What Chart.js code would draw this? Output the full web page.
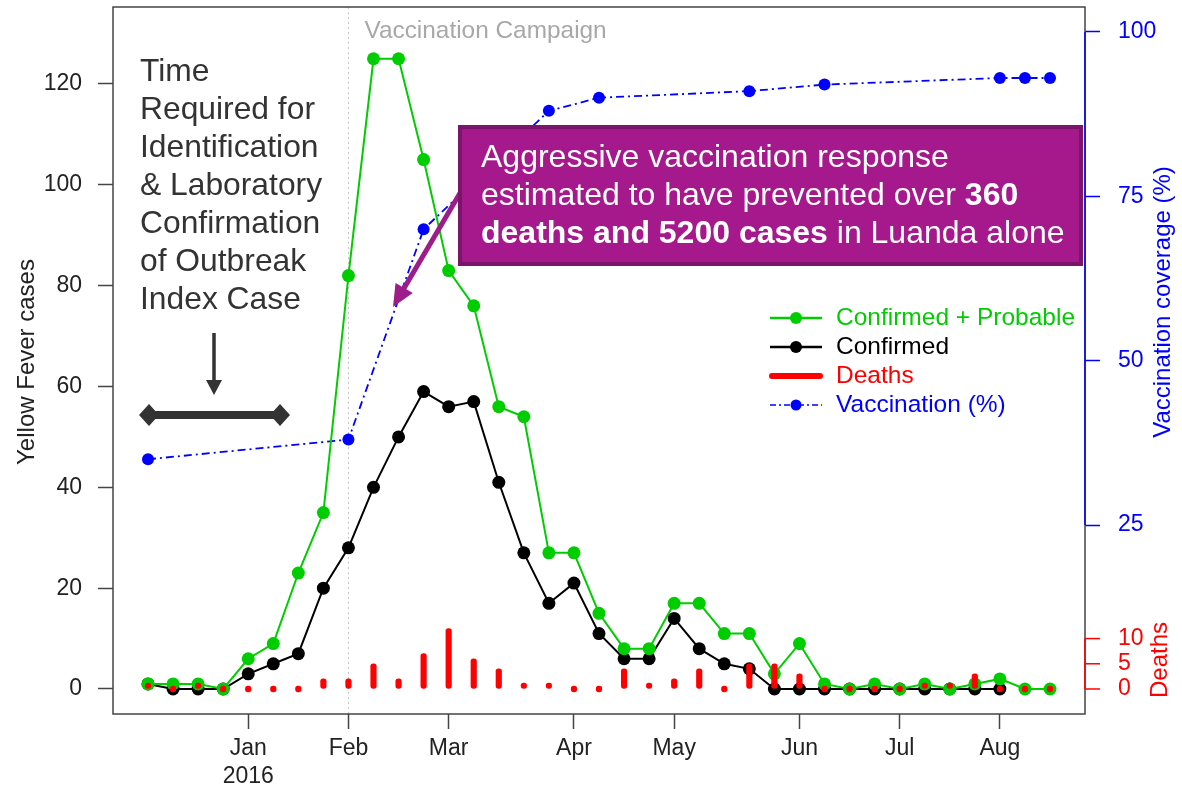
<!DOCTYPE html>
<html><head><meta charset="utf-8">
<script src="https://cdn.jsdelivr.net/npm/chart.js@4.4.1/dist/chart.umd.min.js"></script>
<style>html,body{margin:0;padding:0;background:#fff;}canvas{display:block;}</style>
</head><body>
<canvas id="c" width="1182" height="787"></canvas>
<script>
// ---- data ----
const weeks = [0,1,2,3,4,5,6,7,8,9,10,11,12,13,14,15,16,17,18,19,20,21,22,23,24,25,26,27,28,29,30,31,32,33,34,35,36];
const monthTickWeeks = [4,8,12,17,21,26,30,34];
const monthTickLabels = [['Jan','2016'],'Feb','Mar','Apr','May','Jun','Jul','Aug'];
const confirmedProbable = [1,1,1,0,6,9,23,35,82,125,125,105,83,76,56,54,27,27,15,8,8,17,17,11,11,3,9,1,0,1,0,1,0,1,2,0,0];
const confirmed = [1,0,0,0,3,5,7,20,28,40,50,59,56,57,41,27,17,21,11,6,6,14,8,5,4,0,0,0,0,0,0,0,0,0,0,null,null];
const deaths = [1,0,1,0,0,0,0,2,2,5,2,7,12,6,4,1,1,0,0,4,1,2,4,0,5,5,3,0,0,0,0,1,1,3,0,0,0];
const vaccinationPct = [35,null,null,null,null,null,null,null,38,null,null,70,null,null,null,null,88,null,90,null,null,null,null,null,91,null,null,92,null,null,null,null,null,null,93,93,93];
const caseTicks = [0,20,40,60,80,100,120];
const vaccTicks = [25,50,75,100];
const deathTicks = [0,5,10];
const campaignStartWeek = 8;
const seriesNames = ['Confirmed + Probable','Confirmed','Deaths','Vaccination (%)'];
const leftNote = ['Time','Required for','Identification','& Laboratory','Confirmation','of Outbreak','Index Case'];

// ---- style ----
const FONT = '"Liberation Sans", Arial, Helvetica, sans-serif';
const GREEN = '#00CD00', BLACK = '#000000', RED = '#FF0000', BLUE = '#0000FF';
const AXIS = '#444444', TXT = '#222222';
Chart.defaults.font.family = FONT;

const pts = (arr) => weeks.map((w, i) => ({x: w, y: arr[i]}));
function fixTicks(list) { return (s) => { s.ticks = list.map(v => ({value: v})); }; }
function fitSize(prop, val) {
  return (s) => { s[prop] = val; s.paddingTop = 0; s.paddingBottom = 0; s.paddingLeft = 0; s.paddingRight = 0; };
}

const overlay = {
  id: 'overlay',
  beforeDatasetsDraw(chart) {
    const {ctx, chartArea: a, scales: {x}} = chart;
    const px = x.getPixelForValue(campaignStartWeek);
    ctx.save();
    ctx.strokeStyle = '#c4c4c4'; ctx.lineWidth = 1; ctx.setLineDash([2, 3]);
    ctx.beginPath(); ctx.moveTo(px, a.top); ctx.lineTo(px, a.bottom); ctx.stroke();
    ctx.setLineDash([]);
    ctx.fillStyle = '#a8a8a8'; ctx.font = '24.4px ' + FONT; ctx.textBaseline = 'middle'; ctx.textAlign = 'left';
    ctx.fillText('Vaccination Campaign', px + 16, 31);
    ctx.restore();
  },
  afterDraw(chart) {
    const {ctx, chartArea: a, scales: {y, vacc}} = chart;
    ctx.save();
    // plot box
    ctx.strokeStyle = AXIS; ctx.lineWidth = 1.5;
    ctx.strokeRect(a.left, a.top, a.right - a.left, a.bottom - a.top);
    // vaccination axis line
    ctx.strokeStyle = BLUE;
    ctx.beginPath(); ctx.moveTo(a.right, vacc.getPixelForValue(vaccTicks[0])); ctx.lineTo(a.right, vacc.getPixelForValue(vaccTicks[vaccTicks.length-1])); ctx.stroke();
    // deaths axis
    ctx.strokeStyle = RED;
    ctx.beginPath(); ctx.moveTo(a.right, y.getPixelForValue(deathTicks[0])); ctx.lineTo(a.right, y.getPixelForValue(deathTicks[deathTicks.length-1])); ctx.stroke();
    ctx.fillStyle = RED; ctx.font = '23px ' + FONT; ctx.textBaseline = 'middle'; ctx.textAlign = 'left';
    deathTicks.forEach(v => {
      const py = y.getPixelForValue(v);
      ctx.beginPath(); ctx.moveTo(a.right, py); ctx.lineTo(a.right + 15, py); ctx.stroke();
      ctx.fillText(String(v), a.right + 33, py);
    });
    // axis titles
    ctx.font = '24px ' + FONT; ctx.textAlign = 'center';
    const vtext = (t, cx, cy, col) => { ctx.save(); ctx.translate(cx, cy); ctx.rotate(-Math.PI/2); ctx.fillStyle = col; ctx.fillText(t, 0, 0); ctx.restore(); };
    vtext('Yellow Fever cases', 27, 362, TXT);
    vtext('Vaccination coverage (%)', 1163, 302, BLUE);
    vtext('Deaths', 1160, 660, RED);

    // legend
    const lx0 = 770, lx1 = 822, tx = 836, rows = [318, 347, 376, 405];
    ctx.font = '24.5px ' + FONT; ctx.textAlign = 'left'; ctx.textBaseline = 'middle';
    ctx.strokeStyle = GREEN; ctx.fillStyle = GREEN; ctx.lineWidth = 2.5;
    ctx.beginPath(); ctx.moveTo(lx0, rows[0]); ctx.lineTo(lx1, rows[0]); ctx.stroke();
    ctx.beginPath(); ctx.arc((lx0+lx1)/2, rows[0], 6, 0, Math.PI*2); ctx.fill();
    ctx.fillText(seriesNames[0], tx, rows[0]);
    ctx.strokeStyle = BLACK; ctx.fillStyle = BLACK;
    ctx.beginPath(); ctx.moveTo(lx0, rows[1]); ctx.lineTo(lx1, rows[1]); ctx.stroke();
    ctx.beginPath(); ctx.arc((lx0+lx1)/2, rows[1], 6, 0, Math.PI*2); ctx.fill();
    ctx.fillText(seriesNames[1], tx, rows[1]);
    ctx.strokeStyle = RED; ctx.fillStyle = RED; ctx.lineWidth = 6; ctx.lineCap = 'round';
    ctx.beginPath(); ctx.moveTo(lx0 + 2, rows[2]); ctx.lineTo(lx1 - 2, rows[2]); ctx.stroke();
    ctx.lineCap = 'butt';
    ctx.fillText(seriesNames[2], tx, rows[2]);
    ctx.strokeStyle = BLUE; ctx.fillStyle = BLUE; ctx.lineWidth = 1.5; ctx.setLineDash([6, 3, 2, 3]);
    ctx.beginPath(); ctx.moveTo(lx0, rows[3]); ctx.lineTo(lx1, rows[3]); ctx.stroke();
    ctx.setLineDash([]);
    ctx.beginPath(); ctx.arc((lx0+lx1)/2, rows[3], 5.5, 0, Math.PI*2); ctx.fill();
    ctx.fillText(seriesNames[3], tx, rows[3]);

    // left annotation text
    ctx.fillStyle = '#333333'; ctx.font = '31.8px ' + FONT; ctx.textBaseline = 'middle'; ctx.textAlign = 'left';
    leftNote.forEach((t, i) => ctx.fillText(t, 140, 72 + 38 * i));
    // down arrow
    ctx.strokeStyle = '#333333'; ctx.lineWidth = 3.5;
    ctx.beginPath(); ctx.moveTo(214, 333); ctx.lineTo(214, 384); ctx.stroke();
    ctx.beginPath(); ctx.moveTo(206, 380); ctx.lineTo(222, 380); ctx.lineTo(214, 395); ctx.closePath(); ctx.fill();
    // horizontal bar with diamonds
    ctx.lineWidth = 8;
    ctx.beginPath(); ctx.moveTo(149, 415); ctx.lineTo(280, 415); ctx.stroke();
    [149, 280].forEach(cx => {
      ctx.beginPath(); ctx.moveTo(cx - 10, 415); ctx.lineTo(cx, 404); ctx.lineTo(cx + 10, 415); ctx.lineTo(cx, 426); ctx.closePath(); ctx.fill();
    });

    // purple callout arrow
    const ax0 = 463, ay0 = 188, ax1 = 393, ay1 = 307;
    const ang = Math.atan2(ay1 - ay0, ax1 - ax0);
    ctx.strokeStyle = '#9E1C8A'; ctx.fillStyle = '#9E1C8A'; ctx.lineWidth = 5;
    const hl = 22, hw = 10;
    const bx = ax1 - hl * Math.cos(ang), by = ay1 - hl * Math.sin(ang);
    ctx.beginPath(); ctx.moveTo(ax0, ay0); ctx.lineTo(bx + 4*Math.cos(ang), by + 4*Math.sin(ang)); ctx.stroke();
    ctx.beginPath(); ctx.moveTo(ax1, ay1);
    ctx.lineTo(bx + hw * Math.sin(ang), by - hw * Math.cos(ang));
    ctx.lineTo(bx - hw * Math.sin(ang), by + hw * Math.cos(ang));
    ctx.closePath(); ctx.fill();
    // purple box
    ctx.fillStyle = '#A5198C'; ctx.fillRect(458, 125, 625, 141);
    ctx.strokeStyle = '#7B1569'; ctx.lineWidth = 4; ctx.strokeRect(460, 127, 621, 137);
    ctx.fillStyle = '#FFFFFF'; ctx.textBaseline = 'middle';
    const seg = (parts, xx, yy) => {
      parts.forEach(([t, b]) => { ctx.font = (b ? 'bold ' : '') + '32px ' + FONT; ctx.fillText(t, xx, yy); xx += ctx.measureText(t).width; });
    };
    seg([['Aggressive vaccination response', false]], 481, 158);
    seg([['estimated to have prevented over ', false], ['360', true]], 481, 196);
    seg([['deaths and 5200 cases', true], [' in Luanda alone', false]], 481, 234);
    ctx.restore();
  }
};

new Chart(document.getElementById('c'), {
  type: 'line',
  data: {
    datasets: [
      {type: 'bar', label: seriesNames[2], data: pts(deaths), yAxisID: 'y', backgroundColor: RED, barThickness: 5.5, minBarLength: 6, borderRadius: 3, borderSkipped: false, order: 0},
      {label: seriesNames[0], data: pts(confirmedProbable), yAxisID: 'y', borderColor: GREEN, backgroundColor: GREEN, borderWidth: 2, pointRadius: 6.5, pointBorderWidth: 0, tension: 0, order: 1},
      {label: seriesNames[1], data: pts(confirmed), yAxisID: 'y', borderColor: BLACK, backgroundColor: BLACK, borderWidth: 2, pointRadius: 6.5, pointBorderWidth: 0, tension: 0, order: 2},
      {label: seriesNames[3], data: pts(vaccinationPct), yAxisID: 'vacc', borderColor: BLUE, backgroundColor: BLUE, borderWidth: 1.8, borderDash: [8, 4, 2, 4], pointRadius: 6, pointBorderWidth: 0, tension: 0, spanGaps: true, order: 3}
    ]
  },
  options: {
    responsive: false, animation: false, events: [],
    layout: {padding: {top: 7, left: 0, right: 0, bottom: 0}},
    plugins: {legend: {display: false}, tooltip: {enabled: false}},
    scales: {
      x: {type: 'linear', min: -1.397, max: 37.397, offset: false,
          afterBuildTicks: fixTicks(monthTickWeeks),
          ticks: {autoSkip: false, maxRotation: 0, padding: 6, color: TXT, font: {size: 23}, callback: (v, i) => monthTickLabels[i]},
          grid: {offset: false, drawOnChartArea: false, tickLength: 15, tickColor: AXIS, tickWidth: 1.5},
          border: {display: false},
          afterFit: fitSize('height', 73)},
      y: {type: 'linear', position: 'left', min: -4.96, max: 135.27,
          afterBuildTicks: fixTicks(caseTicks),
          ticks: {padding: 16, color: TXT, font: {size: 23}},
          grid: {offset: false, drawOnChartArea: false, tickLength: 15, tickColor: AXIS, tickWidth: 1.5},
          border: {display: false},
          afterFit: fitSize('width', 113)},
      vacc: {type: 'linear', position: 'right', min: -3.75, max: 103.8,
          afterBuildTicks: fixTicks(vaccTicks),
          ticks: {padding: 18, color: BLUE, font: {size: 23}},
          grid: {offset: false, drawOnChartArea: false, tickLength: 15, tickColor: BLUE, tickWidth: 1.5},
          border: {display: false},
          afterFit: fitSize('width', 97)}
    }
  },
  plugins: [overlay]
});
</script>
</body></html>
